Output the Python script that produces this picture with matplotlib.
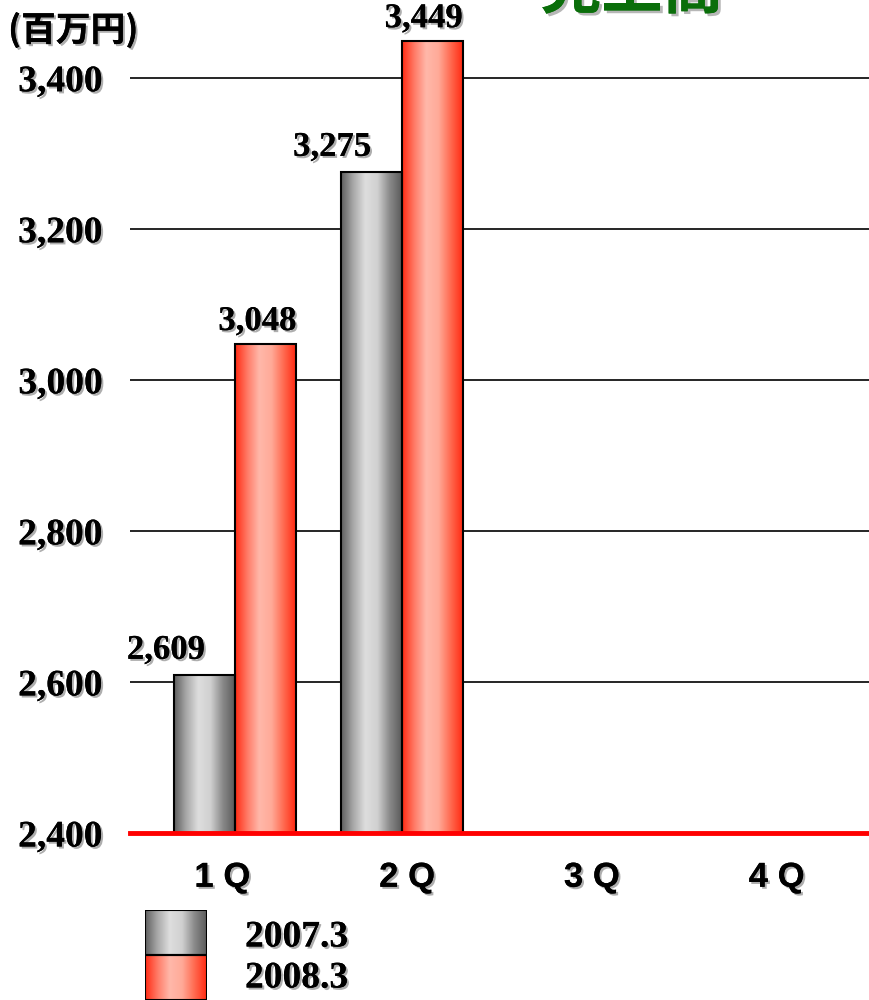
import numpy as np
import matplotlib
matplotlib.use("Agg")
import matplotlib.pyplot as plt
import matplotlib.patheffects as pe
from matplotlib.colors import LinearSegmentedColormap
from matplotlib.patches import Rectangle

# ---- data ----
quarters = ["1 Q", "2 Q", "3 Q", "4 Q"]
fy2007 = [2609, 3275]          # 2007.3 (only 1Q, 2Q reported)
fy2008 = [3048, 3449]          # 2008.3
series_names = ["2007.3", "2008.3"]
yticks = [2400, 2600, 2800, 3000, 3200, 3400]
unit_label = "(百万円)"
title = "売上高"

SERIF = ["Liberation Serif", "DejaVu Serif"]
SANS = ["Liberation Sans", "DejaVu Sans"]
shadow = [pe.withSimplePatchShadow(offset=(1.5, -1.5), shadow_rgbFace="0.55", alpha=0.7), pe.Normal()]

gray_cmap = LinearSegmentedColormap.from_list(
    "g", ["#5e5e5e", "#a8a8a8", "#dedede", "#d0d0d0", "#8a8a8a", "#5a5a5a"])
red_cmap = LinearSegmentedColormap.from_list(
    "r", ["#ff2a12", "#ff7a66", "#ffb8aa", "#ffaa98", "#ff6a50", "#ff2a12"])
grad = np.linspace(0, 1, 256).reshape(1, -1)


def grad_bar(ax, x0, w, y0, y1, cmap):
    ax.imshow(grad, cmap=cmap, extent=(x0, x0 + w, y0, y1), aspect="auto",
              interpolation="bicubic", zorder=3)
    ax.add_patch(Rectangle((x0, y0), w, y1 - y0, fill=False, ec="black",
                           lw=1.5, zorder=4))


fig = plt.figure(figsize=(8.69, 10), dpi=100)
ax = fig.add_axes([130 / 869, 0.167, 739 / 869, 0.833])
ymin, ymax = 2400, 3503
ax.set_xlim(-0.5, 3.5)
ax.set_ylim(ymin, ymax)

w = 0.33
group_x = [0.07, 0.97]   # bar groups sit a bit off the tick centres, as in the source
for gx, a, b in zip(group_x, fy2007, fy2008):
    grad_bar(ax, gx - w, w, ymin, a, gray_cmap)
    grad_bar(ax, gx, w, ymin, b, red_cmap)
    ax.annotate(f"{a:,}", (gx - w / 2, a), xytext=(-28, 6), textcoords="offset points",
                ha="center", va="bottom", fontsize=25, fontweight="bold",
                family=SERIF, path_effects=shadow, zorder=5)
    ax.annotate(f"{b:,}", (gx + w / 2, b), xytext=(-6, 4), textcoords="offset points",
                ha="center", va="bottom", fontsize=25, fontweight="bold",
                family=SERIF, path_effects=shadow, zorder=5, annotation_clip=False)

for y in yticks[1:]:
    ax.axhline(y, color="black", lw=1.2, zorder=1)
ax.axhline(ymin, color="#ff0000", lw=3.5, zorder=5, clip_on=False)

for s in ax.spines.values():
    s.set_visible(False)
ax.set_yticks(yticks)
ax.set_yticklabels([f"{v:,}" for v in yticks])
ax.tick_params(axis="y", length=0, pad=20)
for t in ax.get_yticklabels():
    t.set_fontsize(27); t.set_fontweight("bold"); t.set_family(SERIF)
    t.set_path_effects(shadow)
ax.set_xticks(range(len(quarters)))
ax.set_xticklabels(quarters)
ax.tick_params(axis="x", length=0, pad=20)
for t in ax.get_xticklabels():
    t.set_fontsize(25); t.set_fontweight("bold"); t.set_family(SANS)
    t.set_path_effects(shadow)

fig.text(8 / 869, 0.97, unit_label, fontsize=25, fontweight="bold",
         family=["Noto Sans CJK JP", "DejaVu Sans"], va="center", ha="left",
         path_effects=shadow)
fig.text(632 / 869, 0.992, title, fontsize=44, fontweight="bold", color="#0a6e0a",
         family=["Noto Sans CJK JP", "DejaVu Sans"], ha="center", va="baseline",
         path_effects=[pe.withSimplePatchShadow(offset=(2, -2), shadow_rgbFace="0.6", alpha=0.7),
                       pe.Normal()])

# legend swatches
lax = fig.add_axes([145 / 869, 0.0, 62 / 869, 0.09])
lax.set_xlim(0, 1); lax.set_ylim(0, 2); lax.axis("off")
grad_bar(lax, 0, 1, 1.0, 2.0, gray_cmap)
grad_bar(lax, 0, 1, 0.0, 1.0, red_cmap)
for name, yy in zip(series_names, [0.063, 0.022]):
    fig.text(245 / 869, yy, name, fontsize=27, fontweight="bold", family=SERIF,
             va="center", ha="left", path_effects=shadow)

fig.savefig("out.png", dpi=100)
